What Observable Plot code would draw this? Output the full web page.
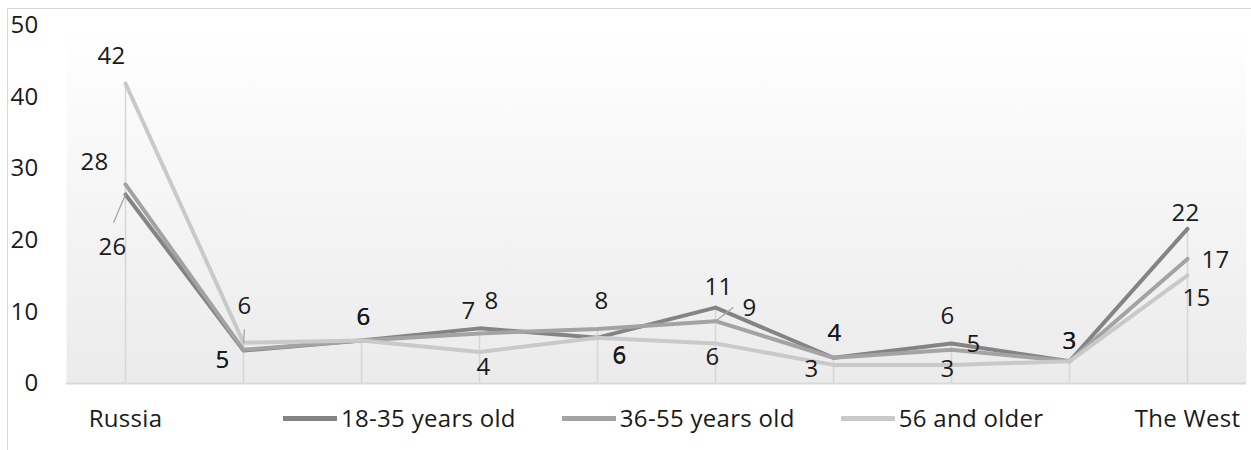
<!DOCTYPE html>
<html><head><meta charset="utf-8">
<script src="https://cdn.jsdelivr.net/npm/d3@7"></script>
<script src="https://cdn.jsdelivr.net/npm/@observablehq/plot@0.6"></script>
<style>
body{margin:0;background:#fff;font-family:"Open Sans",sans-serif;}
#wrap{position:relative;width:1251px;height:450px;overflow:hidden;background:#fff;}
#frame{position:absolute;left:7px;top:8px;width:1300px;height:500px;border-left:1px solid #d9d9d9;border-top:1px solid #d9d9d9;pointer-events:none;}
#chart{position:absolute;left:0;top:0;}
#legend{position:absolute;top:402px;left:283px;display:flex;align-items:center;font-size:24px;letter-spacing:0.3px;color:#1a1a1a;line-height:32px;}
.item{display:flex;align-items:center;margin-right:46px;}
.sw{width:54px;height:5px;margin-right:4px;}
svg text{letter-spacing:0.3px;}
</style></head><body>
<div id="wrap"><div id="chart"></div><div id="frame"></div><div id="legend"></div></div>
<script>
// ---- data ----
const positions = [1, 2, 3, 4, 5, 6, 7, 8, 9, 10];
const tickLabels = ["Russia", "", "", "", "", "", "", "", "", "The West"];
const seriesNames = ["18-35 years old", "36-55 years old", "56 and older"];
const age18to35 = [26.4, 4.6, 6.0, 7.7, 6.4, 10.6, 3.6, 5.6, 3.1, 21.6];
const age36to55 = [27.8, 4.7, 6.0, 7.0, 7.6, 8.7, 3.6, 4.7, 3.1, 17.4];
const age56plus = [41.9, 5.7, 6.0, 4.4, 6.4, 5.6, 2.6, 2.6, 3.1, 15.1];
const yTicks = [0, 10, 20, 30, 40, 50];

// ---- styling ----
const seriesColors = ["#848484", "#a3a3a3", "#c9c9c9"];
// label nudges in pixels [dx, dy] relative to each point
const labelNudges = [
  [[-13,53],[-21,10],[2,-23],[12,-27],[22,19],[3,-20],[1,-24],[-4,-27],[0,-20],[-2,-16]],
  [[-31,-22],[-21,10],[2,-23],[-11,-22],[4,-28],[34,-13],[1,-24],[22,-6],[0,-20],[28,1]],
  [[-14,-27],[1,-36],[2,-23],[4,15],[22,18],[-3,14],[-22,4],[-4,4],[0,-20],[9,23]]
];
// leader lines: series index, point index, length px, angle deg (clockwise from up)
const leaders = [
  {s: 0, i: 0, length: 30, angle: 203},
  {s: 2, i: 1, length: 13, angle: 4},
  {s: 1, i: 5, length: 22, angle: 52}
];

const seriesValues = [age18to35, age36to55, age56plus];
const rows = seriesValues.flatMap((vals, s) => vals.map((v, i) => ({pos: positions[i], value: v, series: seriesNames[s], s, i})));
const maxima = positions.map((p, i) => ({pos: p, top: d3.max(seriesValues, vals => vals[i])}));

const labelMarks = rows.map(r => Plot.text([r], {
  x: "pos", y: "value", text: d => String(Math.round(d.value)),
  dx: labelNudges[r.s][r.i][0], dy: labelNudges[r.s][r.i][1],
  fill: "#1a1a1a", fontSize: 24
}));

let leaderShape = {draw(context, l) { context.moveTo(0, 0); context.lineTo(0, -l); }};
const leaderMarks = leaders.map(L => {
  const d = rows.find(r => r.s === L.s && r.i === L.i);
  try {
    return Plot.vector([d], {x: "pos", y: "value", length: L.length, rotate: L.angle, anchor: "start", shape: leaderShape, stroke: "#a6a6a6", strokeWidth: 1.3});
  } catch (e) {
    return Plot.vector([d], {x: "pos", y: "value", length: L.length, rotate: L.angle, anchor: "start", shape: "spike", r: 0.4, stroke: "#a6a6a6", strokeWidth: 1.2});
  }
});

const chart = Plot.plot({
  width: 1251, height: 450,
  marginLeft: 66, marginRight: 5, marginTop: 25, marginBottom: 67,
  style: {fontFamily: "'Open Sans', sans-serif", fontSize: "24px", color: "#1a1a1a", background: "transparent", overflow: "visible"},
  x: {type: "point", domain: positions, padding: 0.5},
  y: {domain: [0, 50]},
  color: {domain: seriesNames, range: seriesColors},
  marks: [
    Plot.frame({fill: "url(#bgGrad)"}),
    Plot.ruleX(maxima, {x: "pos", y1: 0, y2: "top", stroke: "#d6d6d6", strokeWidth: 1.5}),
    Plot.ruleY([0], {stroke: "#d9d9d9", strokeWidth: 2}),
    Plot.axisY({ticks: yTicks, tickSize: 0, tickPadding: 28, label: null, fontSize: 24}),
    Plot.axisX({tickSize: 0, tickPadding: 26, label: null, fontSize: 24, tickFormat: d => tickLabels[positions.indexOf(d)]}),
    Plot.line(rows, {x: "pos", y: "value", z: "series", stroke: "series", strokeWidth: 4, strokeLinejoin: "round", strokeLinecap: "round"}),
    ...leaderMarks,
    ...labelMarks
  ]
});
d3.select(chart).insert("defs", ":first-child").html('<linearGradient id="bgGrad" x1="0" y1="0" x2="0" y2="1"><stop offset="0" stop-color="#ffffff"/><stop offset="1" stop-color="#ebebeb"/></linearGradient>');
document.getElementById("chart").appendChild(chart);

const legend = d3.select("#legend");
seriesNames.forEach((name, k) => {
  const it = legend.append("div").attr("class", "item");
  it.append("div").attr("class", "sw").style("background", seriesColors[k]);
  it.append("span").text(name);
});
</script>
</body></html>
